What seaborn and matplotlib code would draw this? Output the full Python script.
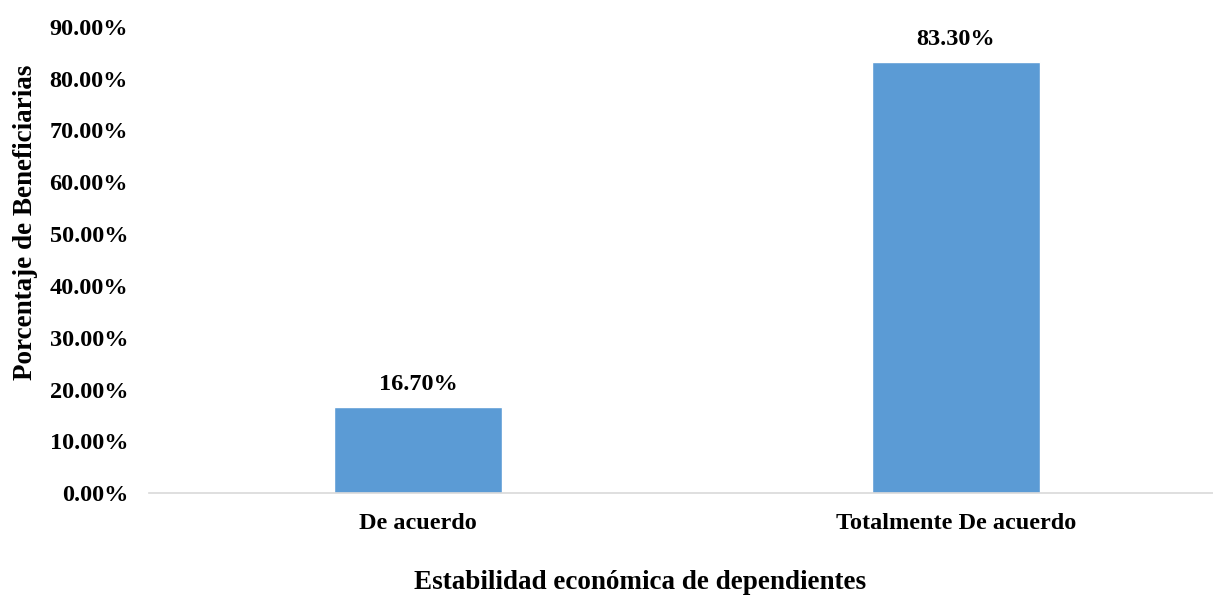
import matplotlib
matplotlib.use("Agg")
import matplotlib.pyplot as plt
import seaborn as sns
from matplotlib.ticker import FuncFormatter

# Data
categorias = ["De acuerdo", "Totalmente De acuerdo"]
porcentajes = [16.7, 83.3]

sns.set_style("white")
plt.rcParams['font.family'] = ['Liberation Serif', 'DejaVu Serif']
plt.rcParams['font.weight'] = 'bold'
plt.rcParams['text.color'] = 'black'
plt.rcParams['xtick.color'] = 'black'
plt.rcParams['ytick.color'] = 'black'
plt.rcParams['axes.labelcolor'] = 'black'

fig = plt.figure(figsize=(12.13, 5.97), dpi=100)
ax = fig.add_axes([0.1228, 0.174, 0.887, 0.781])

sns.barplot(x=categorias, y=porcentajes, color="#5B9BD5", width=0.312,
            saturation=1, ax=ax)

# value labels above bars
for i, v in enumerate(porcentajes):
    ax.text(i, v + 2.3, f"{v:.2f}%", ha="center", va="bottom",
            fontsize=17.5, fontweight="bold")

ax.set_ylim(0, 90)
ax.set_yticks(range(0, 91, 10))
ax.yaxis.set_major_formatter(FuncFormatter(lambda y, _: f"{y:.2f}%"))
ax.tick_params(axis="both", length=0, labelsize=17.5)
ax.tick_params(axis="x", pad=14)
ax.tick_params(axis="y", pad=15)
for lab in ax.get_xticklabels() + ax.get_yticklabels():
    lab.set_fontweight("bold")

for s in ["top", "right", "left"]:
    ax.spines[s].set_visible(False)
ax.spines["bottom"].set_color("#D9D9D9")
ax.spines["bottom"].set_linewidth(1.2)

ax.set_ylabel("Porcentaje de Beneficiarias", fontsize=19.5, fontweight="bold")
ax.yaxis.set_label_coords(-0.103, 0.58)
ax.set_xlabel("Estabilidad económica de dependientes", fontsize=19.5,
              fontweight="bold")
ax.xaxis.set_label_coords(0.456, -0.165)

fig.savefig("out.png", dpi=100)
